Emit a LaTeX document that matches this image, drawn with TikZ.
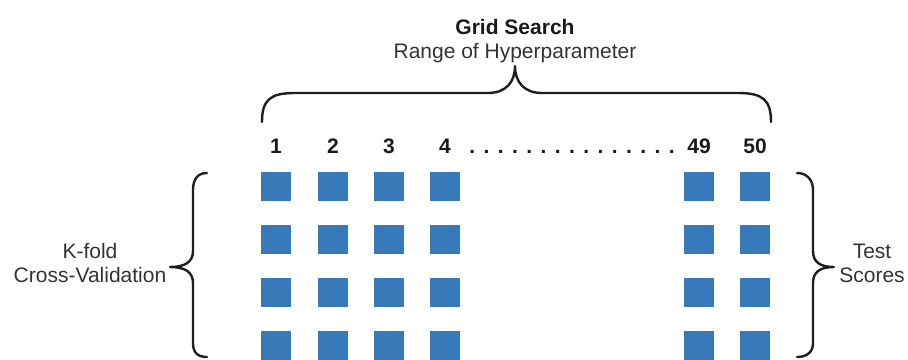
\documentclass[tikz,border=0pt]{standalone}
\usepackage{fontspec}
\setmainfont{Liberation Sans}
\definecolor{sqblue}{HTML}{3779B9}
\definecolor{txtgray}{HTML}{333333}
\definecolor{numblack}{HTML}{1A1A1A}
\definecolor{braceblack}{HTML}{1E1E1E}
\newcommand\dotgap{\hspace{8.4pt}}
\begin{document}
\begin{tikzpicture}[x=1pt,y=-1pt,
  sq/.style={fill=sqblue, minimum width=30pt, minimum height=29pt, inner sep=0pt, outer sep=0pt},
  lbl/.style={font=\fontsize{21}{24}\selectfont, text=txtgray, anchor=base, inner sep=0pt},
  ttl/.style={font=\bfseries\fontsize{21}{24}\selectfont, text=numblack, anchor=base, inner sep=0pt},
  num/.style={font=\bfseries\fontsize{21}{24}\selectfont, text=numblack, anchor=base, inner sep=0pt},
  bracestyle/.style={draw=braceblack, line width=2.4pt, line cap=round, line join=round}]
\useasboundingbox (0,0) rectangle (908,359);
\begin{scope}
\clip (0,0) rectangle (908,359);
% titles
\node[ttl] (title) at (515,34) {Grid Search};
\node[lbl] (range) at (515,58) {Range of Hyperparameter};
% top brace
\draw[bracestyle] (262,122) .. controls (262,100) and (270,93) .. (295,93) -- (488,93)
  .. controls (506,93) and (515,82) .. (515,66)
  .. controls (515,82) and (524,93) .. (542,93) -- (738,93)
  .. controls (763,93) and (771,100) .. (771,122);
% numbers
\foreach \x/\t [count=\i] in {276/1,333/2,389/3,445/4,699/49,755/50}
  \node[num] (n\i) at (\x,153) {\t};
\node[num] (dots) at (572,153) {.\dotgap.\dotgap.\dotgap.\dotgap.\dotgap.\dotgap.\dotgap.\dotgap.\dotgap.\dotgap.\dotgap.\dotgap.\dotgap.\dotgap.};
% squares
\foreach \y [count=\r] in {186.5,239.5,292.5,345.5}
  \foreach \x [count=\c] in {276,333,389,445,699,755}
    \node[sq] (s\r-\c) at (\x,\y) {};
% left brace
\draw[bracestyle] (207,173) .. controls (197,173) and (193,180) .. (193,190) -- (193,251)
  .. controls (193,262) and (185,267) .. (170,267)
  .. controls (185,267) and (193,272) .. (193,283) -- (193,343)
  .. controls (193,352) and (197,357) .. (207,357);
% right brace
\draw[bracestyle] (797,173) .. controls (807,173) and (813,180) .. (813,190) -- (813,251)
  .. controls (813,262) and (820,267) .. (834,267)
  .. controls (820,267) and (813,272) .. (813,283) -- (813,343)
  .. controls (813,352) and (807,357) .. (797,357);
% side labels
\node[lbl] (kfold) at (90,258) {K-fold};
\node[lbl] (cv) at (90,282) {Cross-Validation};
\node[lbl] (test) at (872,258) {Test};
\node[lbl] (scores) at (872,282) {Scores};
\end{scope}
\end{tikzpicture}
\end{document}
